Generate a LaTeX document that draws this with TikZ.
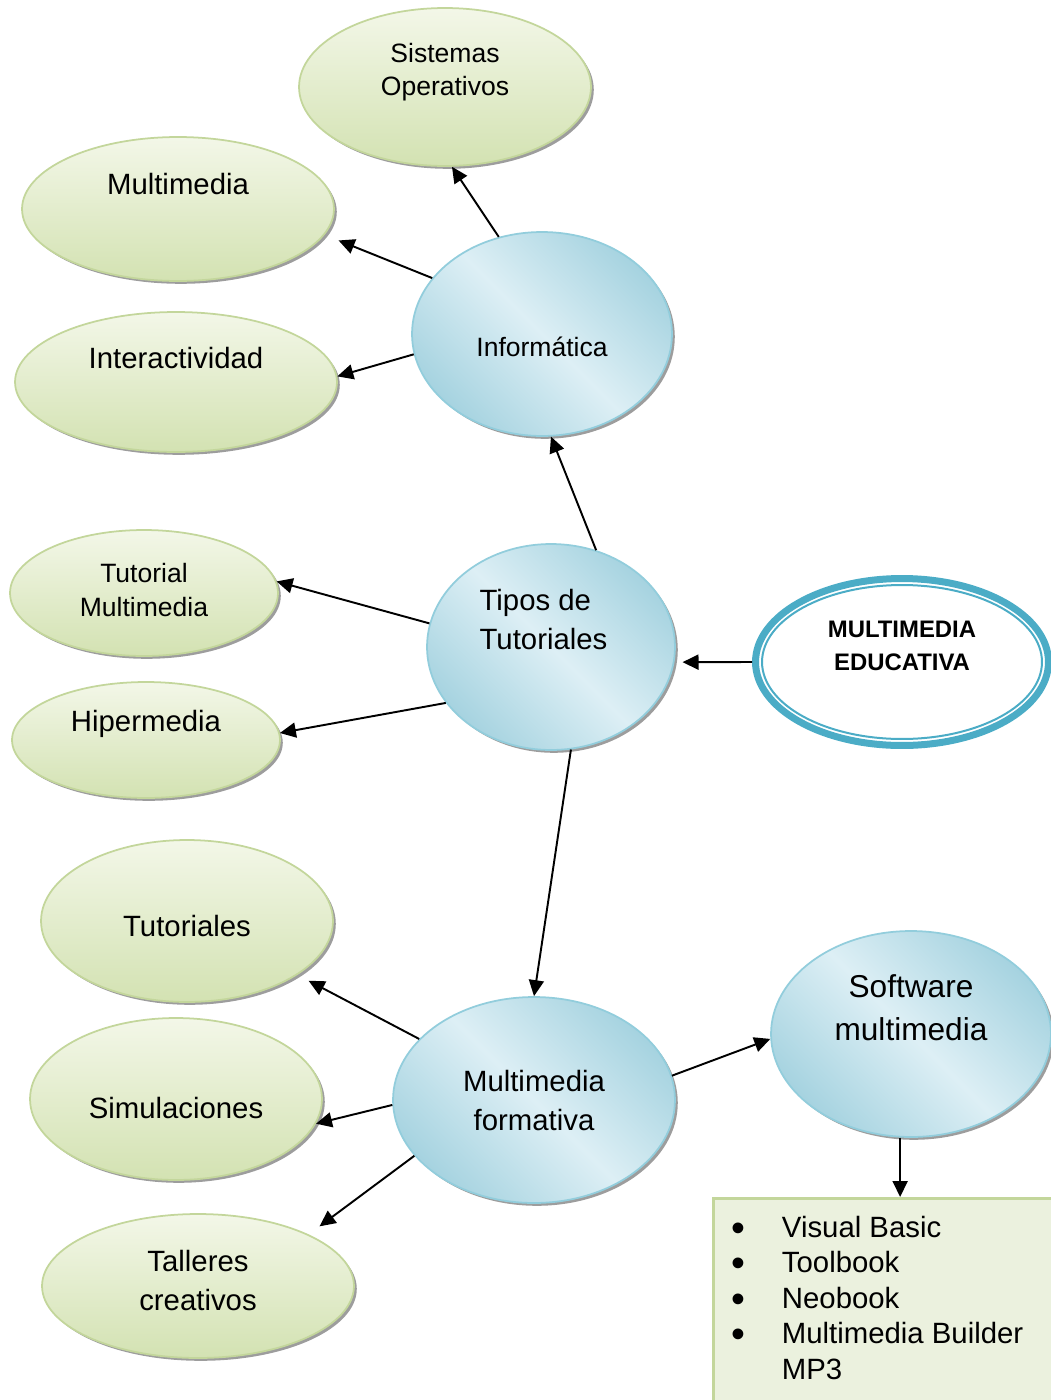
\documentclass[tikz,border=0pt]{standalone}
\usepackage{fontspec}
\setmainfont{Liberation Sans}
\usetikzlibrary{shapes.geometric,arrows.meta,shadows}
\definecolor{hojaclara}{HTML}{F3F7E8}
\definecolor{hojaosc}{HTML}{D3E2B2}
\definecolor{hojaborde}{HTML}{C3D69B}
\definecolor{azulclaro}{HTML}{DDEFF5}
\definecolor{azulosc}{HTML}{A6D3E0}
\definecolor{azulborde}{HTML}{92CDDC}
\definecolor{turquesa}{HTML}{4BACC6}
\definecolor{cajafondo}{HTML}{EBF1DE}
\newcommand{\vineta}{\makebox[1cm][l]{\smash{\raisebox{-0.14em}{\scalebox{1.35}{\textbullet}}}}}
\tikzset{>={Triangle[length=0.32cm,width=0.3cm]},
  sombra/.style={drop shadow={shadow xshift=1.6pt, shadow yshift=-1.6pt, fill=black!55, opacity=0.7}},
  hoja/.style={ellipse, draw=hojaborde, line width=1pt, top color=hojaclara, bottom color=hojaosc, inner sep=0pt, sombra},
  tema/.style={ellipse, draw=azulborde, line width=1pt, left color=azulosc, right color=azulosc, middle color=azulclaro, shading angle=135, inner sep=0pt, sombra},
  rotulo/.style={align=center, inner sep=0pt, font=\fontsize{16.7}{22.2}\selectfont},
  chico/.style={font=\fontsize{15.1}{19}\selectfont},
  caja/.style={rectangle, draw=hojaborde, fill=cajafondo, line width=1.5pt}}

\begin{document}
\begin{tikzpicture}[x=0.02cm, y=-0.02cm, line width=1.1pt]
  \useasboundingbox (0,0) rectangle (1051,1400);
  % ramas de Informatica
  \node (sist) [hoja, minimum width=5.84cm, minimum height=3.16cm, label={[rotulo, chico, yshift=0.3cm]center:Sistemas\\Operativos}] at (445,87) {};
  \node (mm) [hoja, minimum width=6.24cm, minimum height=2.88cm, label={[rotulo, yshift=0.5cm]center:Multimedia}] at (178,209) {};
  \node (inter) [hoja, minimum width=6.44cm, minimum height=2.8cm, label={[rotulo, yshift=0.48cm]center:Interactividad}] at (176,382) {};
  \node (info) [tema, minimum width=5.2cm, minimum height=4.08cm, label={[rotulo, chico, yshift=-0.26cm]center:Informática}] at (542,334) {};
  % centro
  \node (tutm) [hoja, minimum width=5.36cm, minimum height=2.52cm, label={[rotulo, chico, yshift=0.06cm]center:Tutorial\\Multimedia}] at (144,593) {};
  \node (hiper) [hoja, minimum width=5.36cm, minimum height=2.32cm, label={[rotulo, yshift=0.32cm]center:Hipermedia}] at (146,740) {};
  \node (tipos) [tema, minimum width=4.96cm, minimum height=4.12cm, label={[rotulo, align=left, xshift=-0.15cm, yshift=0.56cm]center:Tipos de\\Tutoriales}] at (551,647) {};
  \node (edu) [ellipse, draw=turquesa, line width=0.14cm, minimum width=5.86cm, minimum height=3.34cm, label={[rotulo, font=\bfseries\fontsize{13.6}{18.8}\selectfont, yshift=0.32cm]center:MULTIMEDIA\\EDUCATIVA}] at (902,662) {};
  \draw[turquesa, line width=0.04cm] (edu.center) ellipse [x radius=2.8cm, y radius=1.54cm];
  % ramas de Multimedia formativa
  \node (tut) [hoja, minimum width=5.84cm, minimum height=3.24cm, label={[rotulo, yshift=-0.1cm]center:Tutoriales}] at (187,921) {};
  \node (sim) [hoja, minimum width=5.84cm, minimum height=3.24cm, label={[rotulo, yshift=-0.18cm]center:Simulaciones}] at (176,1099) {};
  \node (tall) [hoja, minimum width=6.24cm, minimum height=2.88cm, label={[rotulo, yshift=0.12cm]center:Talleres\\creativos}] at (198,1286) {};
  \node (mf) [tema, minimum width=5.64cm, minimum height=4.12cm, label={[rotulo]center:Multimedia\\formativa}] at (534,1100) {};
  \node (soft) [tema, minimum width=5.6cm, minimum height=4.12cm, label={[rotulo, font=\fontsize{18}{24.5}\selectfont, yshift=0.52cm]center:Software\\multimedia}] at (911,1034) {};
  \node (tools) [caja, anchor=north west, minimum width=8cm, minimum height=4.6cm] at (712,1197) {};
  \node (lista) [anchor=north west, align=left, inner sep=0pt, font=\fontsize{16.7}{20.2}\selectfont] at ([xshift=0.38cm, yshift=-0.36cm]tools.north west) {\vineta Visual Basic\\ \vineta Toolbook\\ \vineta Neobook\\ \vineta Multimedia Builder\\ \hspace*{1cm}MP3};

  \draw[->] (info.114) -- (sist.-85);
  \draw[->, shorten >=0.3cm] (info.153) -- (mm.-10);
  \draw[->] (info.-171) -- (inter.2);
  \draw[->] (tipos.65) -- (info.-85);
  \draw[->] (tipos.169) -- (tutm.5);
  \draw[->] (tipos.208) -- (hiper.3);
  \draw[->, shorten >=0.16cm] (edu.west) -- (tipos.-7);
  \draw[->] (tipos.-79) -- (mf.90);
  \draw[->, shorten >=0.25cm] (mf.152) -- (tut.-26);
  \draw[->] (mf.182) -- (sim.-10);
  \draw[->, shorten >=0.27cm] (mf.205) -- (tall.25);
  \draw[->] (mf.10) -- (soft.182);
  \draw[->] (soft.-96) -- (soft.-96 |- tools.north);
\end{tikzpicture}
\end{document}
